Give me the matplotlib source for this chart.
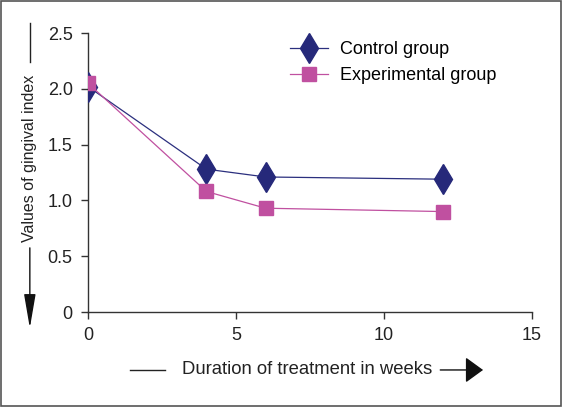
import matplotlib.pyplot as plt
from matplotlib.patches import Rectangle

plt.rcParams['font.family'] = ['Liberation Sans', 'DejaVu Sans']

weeks = [0, 4, 6, 12]
control = [2.02, 1.28, 1.21, 1.19]
experimental = [2.05, 1.08, 0.93, 0.90]
xticks = [0, 5, 10, 15]
yticks = [0, 0.5, 1.0, 1.5, 2.0, 2.5]
ytick_labels = ['0', '0.5', '1.0', '1.5', '2.0', '2.5']

fig = plt.figure(figsize=(5.63, 4.07), dpi=100)
ax = fig.add_axes([0.1563, 0.2334, 0.7887, 0.6855])

ax.plot(weeks, control, color='#2b2f7e', lw=0.9, marker='d', ms=15,
        mfc='#26297a', mec='#26297a', label='Control group', zorder=3)
ax.plot(weeks, experimental, color='#c050a0', lw=0.9, marker='s', ms=10.5,
        mfc='#c050a0', mec='#c050a0', label='Experimental group', zorder=4)

ax.set_xlim(0, 15)
ax.set_ylim(0, 2.5)
ax.set_xticks(xticks)
ax.set_yticks(yticks)
ax.set_yticklabels(ytick_labels)
for s in ['top', 'right']:
    ax.spines[s].set_visible(False)
for s in ['left', 'bottom']:
    ax.spines[s].set_color('#333333')
    ax.spines[s].set_linewidth(1.0)
ax.tick_params(colors='#333333', labelcolor='#222222', labelsize=13,
               length=5, width=1.0, pad=6)

ax.legend(loc='upper left', bbox_to_anchor=(0.419, 1.03), frameon=False,
          fontsize=13, handlelength=2.1, labelspacing=0.5,
          handletextpad=0.67)

# y label with line and arrow
fig.text(0.053, 0.6105, 'Values of gingival index', rotation=90,
         ha='center', va='center', fontsize=11.5, color='#222222')
fig.add_artist(plt.Line2D([0.053, 0.053], [0.9435, 0.8477], color='#222222',
                          lw=1.0))
ax.annotate('', xy=(0.053, 0.194), xycoords='figure fraction',
            xytext=(0.053, 0.391), textcoords='figure fraction',
            arrowprops=dict(arrowstyle='-|>,head_width=0.36,head_length=2.1',
                            color='#111111', lw=1.0, shrinkA=0, shrinkB=0))

# x label with line and arrow
fig.text(0.545, 0.091, 'Duration of treatment in weeks', ha='center',
         va='center', fontsize=13.3, color='#222222')
fig.add_artist(plt.Line2D([0.231, 0.293], [0.091, 0.091], color='#222222',
                          lw=1.0))
ax.annotate('', xy=(0.858, 0.091), xycoords='figure fraction',
            xytext=(0.782, 0.091), textcoords='figure fraction',
            arrowprops=dict(arrowstyle='-|>,head_width=0.8,head_length=1.1',
                            color='#111111', lw=1.0, shrinkA=0, shrinkB=0))

fig.add_artist(Rectangle((0.002, 0.003), 0.995, 0.994, transform=fig.transFigure,
                         fill=False, edgecolor='#555555', lw=1.2))

fig.savefig('out.png', dpi=100)
